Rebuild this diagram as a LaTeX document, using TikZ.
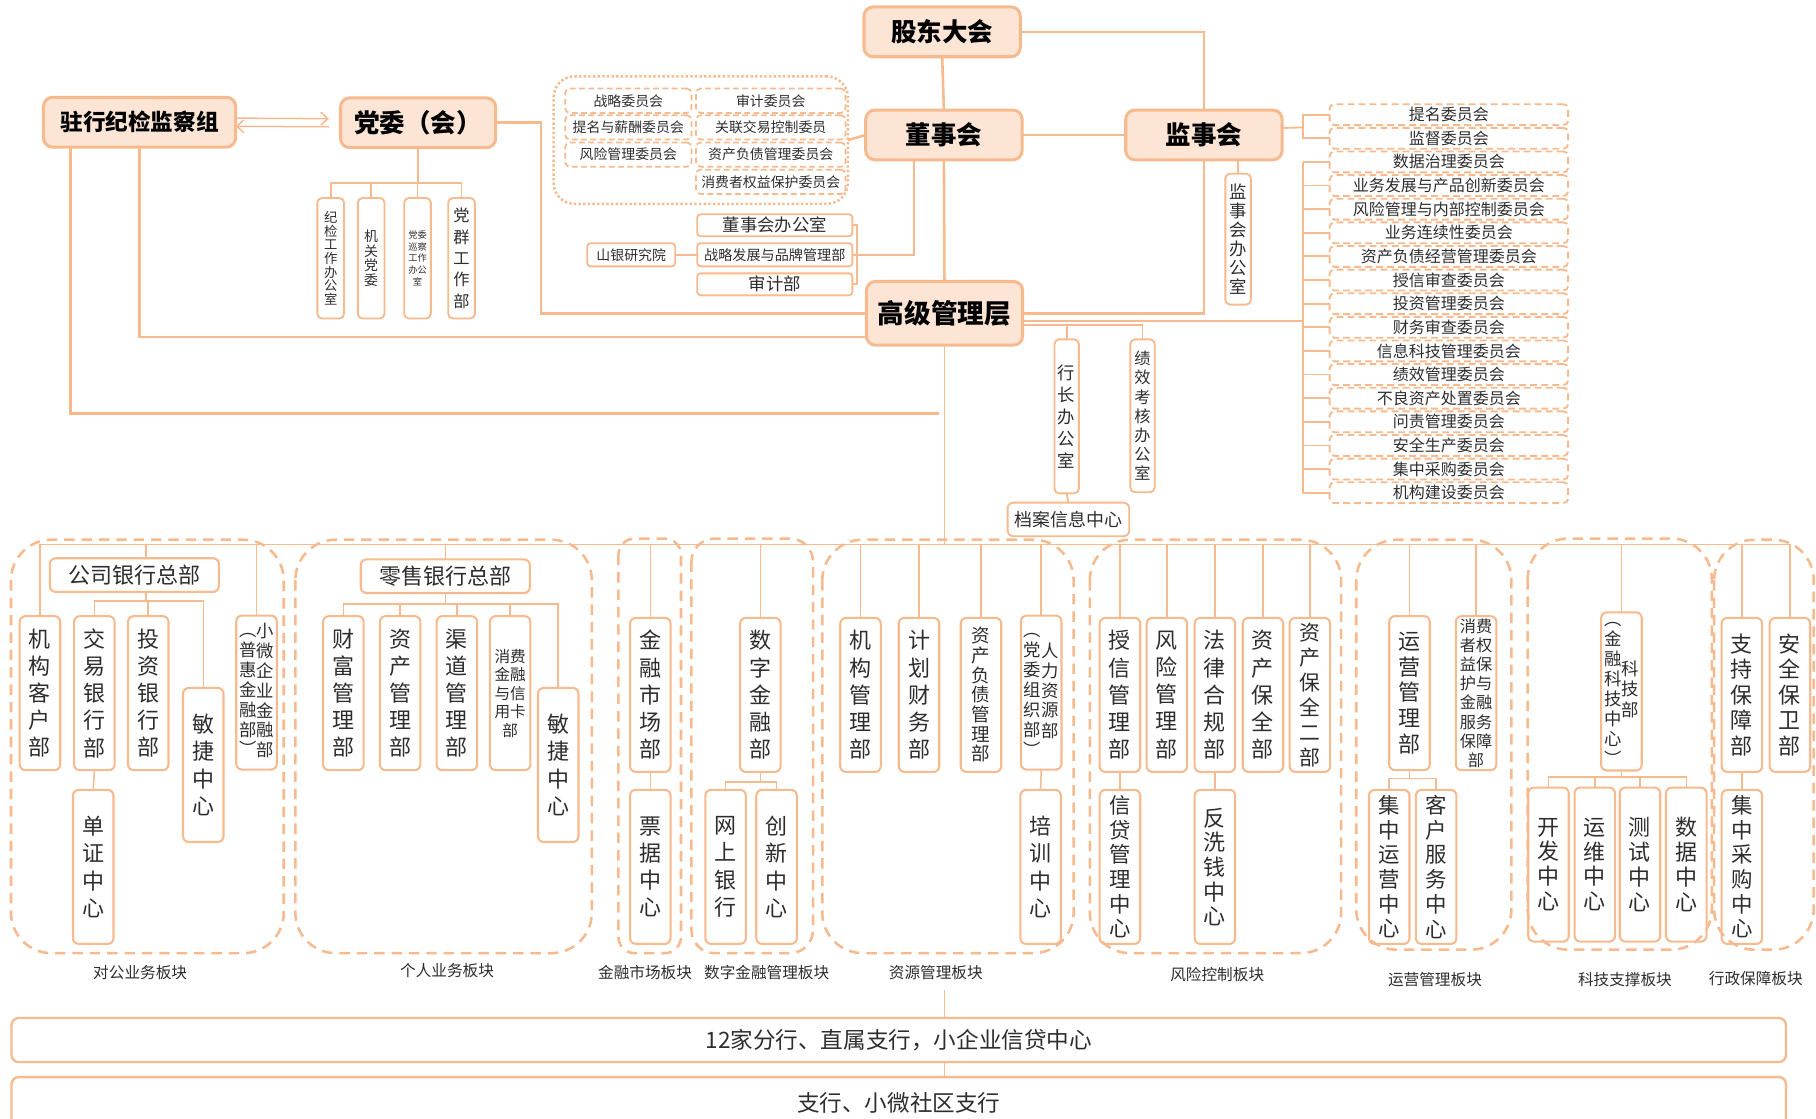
\documentclass[tikz,border=0pt]{standalone}
\usepackage{fontspec}
\setmainfont{Noto Sans CJK SC}
\usetikzlibrary{arrows.meta,calc}
\definecolor{ln}{RGB}{246,186,142}
\definecolor{topfill}{RGB}{252,229,213}
\definecolor{txt}{RGB}{45,45,45}
\newcommand{\vcol}[1]{\begin{tabular}[c]{@{}c@{}}#1\end{tabular}}
\tikzset{
 conn/.style={draw=ln, line width=2.2},
 tl/.style={draw=ln, line width=1.3},
 topbox/.style={draw=ln, fill=topfill, line width=2.6, rounded corners=8, text=black, minimum width=135, minimum height=43, font=\fontsize{22}{26}\selectfont\bfseries},
 sbox/.style={draw=ln, line width=1.6, rounded corners=4, text=txt, align=center, minimum width=23, minimum height=104},
 bcomm/.style={draw=ln, dash pattern=on 5pt off 3pt, line width=1.5, rounded corners=4, minimum height=21, text=txt, font=\fontsize{12}{14}\selectfont},
 obox/.style={draw=ln, line width=1.6, rounded corners=3, text=txt},
 comm/.style={draw=ln, dash pattern=on 6pt off 3.5pt, line width=1.6, rounded corners=4, minimum width=206, minimum height=18, text=txt, font=\fontsize{13.8}{15}\selectfont},
 vbox/.style={draw=ln, line width=1.8, rounded corners=5, text=txt, align=center, minimum width=35, minimum height=133, font=\fontsize{19}{23.5}\selectfont},
 hbox/.style={draw=ln, line width=1.8, rounded corners=5, text=txt, minimum width=146, minimum height=29, font=\fontsize{19}{22}\selectfont},
 cont/.style={draw=ln, dash pattern=on 9pt off 6pt, line width=2.2, rounded corners=35},
 lbl/.style={text=txt, font=\fontsize{13.5}{15}\selectfont},
 arr/.style={draw=ln, line width=1.3, -{Straight Barb[length=6pt,width=11pt]}},
}
\begin{document}
\begin{tikzpicture}[x=1pt,y=-1pt, every node/.style={inner sep=0pt, outer sep=0pt}]
\useasboundingbox (0,0) rectangle (1568,966);

% ---------- containers ----------
\draw[cont] (9.5,466) rectangle (245,823);
\draw[cont] (255,466) rectangle (511,823);
\draw[cont, rounded corners=14] (534,465) rectangle (588,823);
\draw[cont, rounded corners=20] (597,465) rectangle (702,823);
\draw[cont] (710,466) rectangle (927,823);
\draw[cont] (941,466) rectangle (1158,823);
\draw[cont] (1171,466) rectangle (1305,820);
\draw[cont] (1319,465) rectangle (1478,820);
\draw[cont] (1480,466) rectangle (1566,820);

% ---------- top nodes ----------
\node[topbox] (gd) at (813.5,27.5) {股东大会};
\node[topbox] (dsh) at (815,116.5) {董事会};
\node[topbox] (jsh) at (1039.5,116.5) {监事会};
\node[topbox, minimum height=55, font=\fontsize{23}{26}\selectfont\bfseries] (gj) at (815.5,270.5) {高级管理层};
\node[topbox, minimum width=166, font=\fontsize{19.5}{24}\selectfont\bfseries] (zh) at (120.5,105.5) {驻行纪检监察组};
\node[topbox, minimum width=134] (dw) at (361,106) {党委（会）};

% party children
\node[sbox, font=\fontsize{11.5}{11.7}\selectfont] (jj) at (285.5,223) {纪\\检\\工\\作\\办\\公\\室};
\node[sbox, font=\fontsize{12}{12.5}\selectfont] (jg) at (320.5,223) {机\\关\\党\\委};
\node[sbox, font=\fontsize{8}{10}\selectfont] (xc) at (360.5,223) {党委\\巡察\\工作\\办公\\室};
\node[sbox, font=\fontsize{14}{18.4}\selectfont] (dq) at (398.5,223) {党\\群\\工\\作\\部};

% board committees
\node[draw=ln, dash pattern=on 2pt off 2pt, line width=2.2, rounded corners=18, minimum width=254, minimum height=110] (bc) at (605,121) {};
\node[bcomm, minimum width=109] (zl) at (542.5,87) {战略委员会};
\node[bcomm, minimum width=109] (tm) at (542.5,110) {提名与薪酬委员会};
\node[bcomm, minimum width=109] (fx) at (542.5,133.5) {风险管理委员会};
\node[bcomm, minimum width=129] (sj) at (665.5,87) {审计委员会};
\node[bcomm, minimum width=129] (gl) at (665.5,110) {关联交易控制委员};
\node[bcomm, minimum width=129] (zf) at (665.5,133.5) {资产负债管理委员会};
\node[bcomm, minimum width=129] (xf) at (665.5,157) {消费者权益保护委员会};

% board offices
\node[obox, minimum width=134, minimum height=19, font=\fontsize{15}{16}\selectfont] (dbs) at (669,194.5) {董事会办公室};
\node[obox, minimum width=134, minimum height=20, font=\fontsize{12.2}{14}\selectfont] (zlfz) at (669,220) {战略发展与品牌管理部};
\node[obox, minimum width=134, minimum height=19, font=\fontsize{15}{16}\selectfont] (sjb) at (669,245.5) {审计部};
\node[obox, minimum width=76, minimum height=20, font=\fontsize{12}{14}\selectfont] (sy) at (545,220) {山银研究院};

% supervisory office
\node[sbox, minimum width=22, minimum height=113, font=\fontsize{15}{16.4}\selectfont] (jshb) at (1069,206.5) {监\\事\\会\\办\\公\\室};

% senior management offices
\node[sbox, minimum width=21, minimum height=133, font=\fontsize{15}{19}\selectfont] (hz) at (921,359.5) {行\\长\\办\\公\\室};
\node[sbox, minimum width=21, minimum height=132, font=\fontsize{14}{16.5}\selectfont] (jx) at (986.5,359) {绩\\效\\考\\核\\办\\公\\室};
\node[obox, rounded corners=5, minimum width=105, minimum height=29, font=\fontsize{15.5}{17}\selectfont] (da) at (922.5,448.5) {档案信息中心};

% committees
\foreach \t [count=\i] in {提名委员会,监督委员会,数据治理委员会,业务发展与产品创新委员会,风险管理与内部控制委员会,业务连续性委员会,资产负债经营管理委员会,授信审查委员会,投资管理委员会,财务审查委员会,信息科技管理委员会,绩效管理委员会,不良资产处置委员会,问责管理委员会,安全生产委员会,集中采购委员会,机构建设委员会}
  \node[comm] (c\i) at (1251,{99+20.4*(\i-1)}) {\t};

% ---------- top connectors ----------
\draw[conn] (gd.east) -| (jsh.north);
\draw[conn] (gd.south) -- (dsh.north);
\draw[conn] (dsh.east) -- (jsh.west);
\draw[conn] (dsh.south) -- (gj.north);
\draw[conn] (jsh.south) |- (gj.east);
\draw[conn] ([xshift=29.5]jsh.south) -- (jshb.north);
\draw[conn] (bc.east) -- (dsh.west);
\coordinate (brk) at (740,220);
\draw[conn] ([xshift=-26]dsh.south) |- (brk);
\draw[tl, line width=1.6] (dbs.east) -- (dbs.east -| brk) -- (sjb.east -| brk) -- (sjb.east);
\draw[tl, line width=1.6] (zlfz.east) -- (brk);
\draw[tl, line width=1.6] (sy.east) -- (zlfz.west);

\draw[conn] (dw.east) -- ++(39,0) |- (gj.west);
\draw[conn] (zh.south) |- ([yshift=-20.5]gj.west);
\coordinate (zhend) at (811,357);
\draw[conn] ([xshift=-59.5]zh.south) |- (zhend);
\draw[arr, shorten >=10pt] ([yshift=3.5]zh.east) -- ([yshift=3.5]dw.west);
\draw[arr, shorten <=10pt] ([yshift=-3.5]dw.west) -- ([yshift=-3.5]zh.east);

\coordinate (dwbar) at (361,158);
\draw[conn, line width=1.6] (dw.south) -- (dwbar);
\draw[conn, line width=1.6] (jj.north) -- (jj.north |- dwbar) -- (dq.north |- dwbar) -- (dq.north);
\draw[conn, line width=1.6] (jg.north) -- (jg.north |- dwbar);
\draw[conn, line width=1.6] (xc.north) -- (xc.north |- dwbar);

% committees brackets
\coordinate (bx1) at (1125,110);
\draw[conn, line width=1.6] ([yshift=6]jsh.east) -- (bx1);
\draw[conn, line width=1.6] (c1.west) -- (c1.west -| bx1) -- (c2.west -| bx1) -- (c2.west);
\coordinate (bx2) at (1125,277);
\draw[conn, line width=1.6] ([yshift=-6.5]gj.east) -- (bx2);
\draw[conn, line width=1.6] (c3.west -| bx2) -- (c17.west -| bx2);
\foreach \i in {3,...,17} \draw[conn, line width=1.6] (c\i.west) -- (c\i.west -| bx2);

% senior management offices
\coordinate (gjo) at ([yshift=-10]gj.east);
\draw[conn, line width=1.6] (gjo) -| (jx.north);
\draw[conn, line width=1.6] (hz.north) -- (gjo -| hz.north);
\draw[conn, line width=1.6] (hz.south) -- (da.north);

% ---------- lower departments ----------
% 对公
\node[hbox] (gsyh) at (116,496.5) {公司银行总部};
\node[vbox] (jgkh) at (34.5,598.5) {机\\构\\客\\户\\部};
\node[vbox] (jyyh) at (81.5,598.5) {交\\易\\银\\行\\部};
\node[vbox] (tzyh) at (128,598.5) {投\\资\\银\\行\\部};
\node[vbox] (mj1) at (175.5,660.5) {敏\\捷\\中\\心};
\node[vbox, font=\fontsize{15}{15.4}\selectfont] (xw) at (221.5,598) {\vcol{︵\\普\\惠\\金\\融\\部\\︶}\vcol{小\\微\\企\\业\\金\\融\\部}};
\node[vbox] (dz) at (80.5,748.5) {单\\证\\中\\心};
% 个人
\node[hbox] (lsyh) at (384.5,497.5) {零售银行总部};
\node[vbox] (cf) at (296.5,598.5) {财\\富\\管\\理\\部};
\node[vbox] (zcgl) at (345.5,598.5) {资\\产\\管\\理\\部};
\node[vbox] (qd) at (394.5,598.5) {渠\\道\\管\\理\\部};
\node[vbox, font=\fontsize{13.5}{16}\selectfont] (xfjr) at (440.5,598.5) {消费\\金融\\与信\\用卡\\部};
\node[vbox] (mj2) at (482,660.5) {敏\\捷\\中\\心};
% 金融市场
\node[vbox] (jrsc) at (561.5,600) {金\\融\\市\\场\\部};
\node[vbox] (pj) at (561.5,748.5) {票\\据\\中\\心};
% 数字金融
\node[vbox] (szjr) at (656.5,600) {数\\字\\金\\融\\部};
\node[vbox] (wsyh) at (626.5,748.5) {网\\上\\银\\行};
\node[vbox] (cx) at (670.5,748.5) {创\\新\\中\\心};
% 资源
\node[vbox] (jggl) at (743,600) {机\\构\\管\\理\\部};
\node[vbox] (jhcw) at (793.5,600) {计\\划\\财\\务\\部};
\node[vbox, font=\fontsize{16}{17}\selectfont] (zcfz) at (847,600) {资\\产\\负\\债\\管\\理\\部};
\node[vbox, font=\fontsize{15}{15.5}\selectfont] (rl) at (899,598) {\vcol{︵\\党\\委\\组\\织\\部\\︶}\vcol{人\\力\\资\\源\\部}};
\node[vbox] (px) at (898.5,748.5) {培\\训\\中\\心};
% 风险
\node[vbox] (sx) at (967,600) {授\\信\\管\\理\\部};
\node[vbox] (fxgl) at (1007.5,600) {风\\险\\管\\理\\部};
\node[vbox] (flhg) at (1049,600) {法\\律\\合\\规\\部};
\node[vbox] (zcbq) at (1090.5,600) {资\\产\\保\\全\\部};
\node[vbox, font=\fontsize{18}{21.6}\selectfont] (zcbq2) at (1131,600) {资\\产\\保\\全\\二\\部};
\node[vbox, font=\fontsize{18.5}{21.3}\selectfont] (xd) at (967,748.5) {信\\贷\\管\\理\\中\\心};
\node[vbox, font=\fontsize{19}{21.3}\selectfont] (fxq) at (1049,748.5) {反\\洗\\钱\\中\\心};
% 运营
\node[vbox, font=\fontsize{19}{22.3}\selectfont] (yygl) at (1217,598.5) {运\\营\\管\\理\\部};
\node[vbox, font=\fontsize{14}{16.6}\selectfont] (xfzq) at (1274.5,598.5) {消费\\者权\\益保\\护与\\金融\\服务\\保障\\部};
\node[vbox, font=\fontsize{18.5}{21.3}\selectfont] (jzyy) at (1199.5,748.5) {集\\中\\运\\营\\中\\心};
\node[vbox, font=\fontsize{18.5}{21.3}\selectfont] (khfw) at (1240,748.5) {客\\户\\服\\务\\中\\心};
% 科技
\node[vbox, font=\fontsize{15}{15.8}\selectfont] (kjb) at (1400,597) {\vcol{︵\\金\\融\\科\\技\\中\\心\\︶}\vcol{科\\技\\部}};
\node[vbox, font=\fontsize{19}{21.5}\selectfont] (kf) at (1337,746.5) {开\\发\\中\\心};
\node[vbox, font=\fontsize{19}{21.5}\selectfont] (yw) at (1377,746.5) {运\\维\\中\\心};
\node[vbox, font=\fontsize{19}{21.5}\selectfont] (cs) at (1416,746.5) {测\\试\\中\\心};
\node[vbox, font=\fontsize{19}{21.5}\selectfont] (sjzx) at (1456,746.5) {数\\据\\中\\心};
% 行政
\node[vbox, font=\fontsize{19}{21.9}\selectfont] (zcbz) at (1504,600) {支\\持\\保\\障\\部};
\node[vbox, font=\fontsize{19}{21.9}\selectfont] (aqbw) at (1545.5,600) {安\\全\\保\\卫\\部};
\node[vbox, font=\fontsize{18.5}{21.3}\selectfont] (jzcg) at (1504,748.5) {集\\中\\采\\购\\中\\心};

% ---------- bus and lower connectors ----------
\coordinate (busL) at (34.5,470);
\coordinate (busR) at (1545.5,470);
\draw[tl] (busL) -- (busR);
\draw[tl] (gj.south) -- (gj.south |- busL);
\coordinate (g1) at ([xshift=10]gsyh.north);
\coordinate (g2) at ([xshift=10]gsyh.south);
\draw[tl] (g1) -- (g1 |- busL);
\foreach \n in {jgkh,xw,lsyh,jrsc,szjr,jggl,jhcw,zcfz,rl,sx,fxgl,flhg,zcbq,zcbq2,yygl,xfzq,kjb,zcbz,aqbw}
  \draw[tl] (\n.north) -- (\n.north |- busL);

\coordinate (gbar) at (0,519);
\draw[tl] (g2) -- (g2 |- gbar);
\draw[tl] (jyyh.north) -- (jyyh.north |- gbar) -- (mj1.north |- gbar) -- (mj1.north);
\draw[tl] (tzyh.north) -- (tzyh.north |- gbar);
\draw[tl] (jyyh.south) -- (dz.north);

\coordinate (pbar) at (0,521.5);
\draw[tl] (lsyh.south) -- (lsyh.south |- pbar);
\draw[tl] (cf.north) -- (cf.north |- pbar) -- (mj2.north |- pbar) -- (mj2.north);
\foreach \n in {zcgl,qd,xfjr} \draw[tl] (\n.north) -- (\n.north |- pbar);

\draw[tl] (jrsc.south) -- (pj.north);

\coordinate (dbar) at (0,675);
\draw[tl] (szjr.south) -- (szjr.south |- dbar);
\draw[tl] (wsyh.north) -- (wsyh.north |- dbar) -- (cx.north |- dbar) -- (cx.north);

\draw[tl] (rl.south) -- (px.north);
\draw[tl] (sx.south) -- (xd.north);
\draw[tl] (flhg.south) -- (fxq.north);

\coordinate (ybar) at (0,672);
\draw[tl] (yygl.south) -- (yygl.south |- ybar);
\draw[tl] (jzyy.north) -- (jzyy.north |- ybar) -- (khfw.north |- ybar) -- (khfw.north);

\coordinate (kbar) at (0,671);
\draw[tl] (kjb.south) -- (kjb.south |- kbar);
\draw[tl] (kf.north) -- (kf.north |- kbar) -- (sjzx.north |- kbar) -- (sjzx.north);
\draw[tl] (yw.north) -- (yw.north |- kbar);
\draw[tl] (cs.north) -- (cs.north |- kbar);

\draw[tl] (zcbz.south) -- (jzcg.north);

% ---------- labels ----------
\node[lbl] (l1) at (121,840) {对公业务板块};
\node[lbl] (l2) at (386,838) {个人业务板块};
\node[lbl] (l3) at (557,840) {金融市场板块};
\node[lbl] (l4) at (662,840) {数字金融管理板块};
\node[lbl] (l5) at (808,840) {资源管理板块};
\node[lbl] (l6) at (1051,841) {风险控制板块};
\node[lbl] (l7) at (1239,846) {运营管理板块};
\node[lbl] (l8) at (1403,846) {科技支撑板块};
\node[lbl] (l9) at (1516,845) {行政保障板块};

% ---------- branches ----------
\node[draw=ln, line width=2, rounded corners=6, minimum width=1532, minimum height=38, text=txt, font=\fontsize{19.5}{22}\selectfont] (fh) at (776,898) {12家分行、直属支行，小企业信贷中心};
\node[draw=ln, line width=2, rounded corners=6, minimum width=1532, minimum height=44, text=txt, font=\fontsize{19.5}{22}\selectfont] (zhh) at (776,952) {支行、小微社区支行};
\coordinate (tr) at (815.5,855);
\draw[tl] (tr) -- (tr |- fh.north);
\draw[tl] (fh.south -| tr) -- (zhh.north -| tr);
\end{tikzpicture}
\end{document}
